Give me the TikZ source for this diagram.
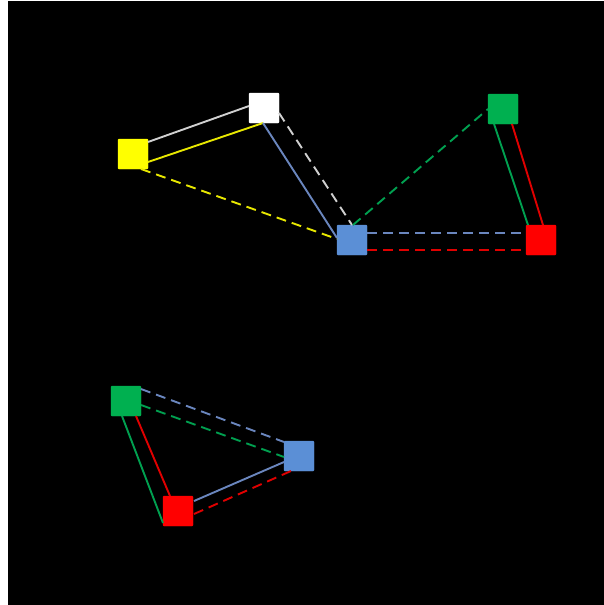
\documentclass[tikz,border=0pt]{standalone}
\usetikzlibrary{calc}
\definecolor{sqyellow}{HTML}{FFFF00}
\definecolor{sqblue}{HTML}{5B8FD6}
\definecolor{sqred}{HTML}{FF0000}
\definecolor{sqgreen}{HTML}{00B050}
\definecolor{lnyellow}{HTML}{E8E800}
\definecolor{lnblue}{HTML}{6A86BE}
\definecolor{lngray}{HTML}{D0D0D0}
\definecolor{lngreen}{HTML}{00A050}
\definecolor{lnred}{HTML}{E00000}

\begin{document}
\begin{tikzpicture}[x=1pt,y=-1pt,
  sq/.style={draw=#1,fill=#1,rounded corners=1pt,minimum size=30pt,inner sep=0pt},
  ln/.style={line width=1.9pt,#1},
  dl/.style={line width=1.9pt,#1,dash pattern=on 10pt off 6pt}]
  % background
  \fill[white] (0,0) rectangle (604,605);
  \fill[black] (8,1) rectangle (604,605);
  \useasboundingbox (0,0) rectangle (604,605);

  % upper group
  \node[sq=sqyellow] (y1) at (133,154) {};
  \node[sq=white] (w1) at (264,108) {};
  \node[sq=sqblue] (b1) at (352,240) {};
  \node[sq=sqred] (r1) at (541,240) {};
  \node[sq=sqgreen] (g1) at (503,109) {};

  \draw[ln=lngray] ($(y1.center)+(15,-12)$) -- ($(w1.center)+(-15,-2)$);
  \draw[ln=lnyellow] ($(y1.center)+(15,8)$) -- ($(w1.center)+(-1,15)$);
  \draw[ln=lnblue] ($(w1.center)+(-1,15)$) -- ($(b1.center)+(-15,-2)$);
  \draw[dl=lngray] ($(w1.center)+(15,5)$) -- ($(b1.center)+(0,-15)$);
  \draw[dl=lnyellow] ($(y1.center)+(8,15)$) -- ($(b1.center)+(-15,-1)$);
  \draw[dl=lngreen] ($(b1.center)+(1,-15)$) -- ($(g1.center)+(-15,0)$);
  \draw[dl=lnblue] ($(b1.center)+(15,-7)$) -- ($(r1.center)+(-15,-7)$);
  \draw[dl=lnred] ($(b1.center)+(15,10)$) -- ($(r1.center)+(-15,10)$);
  \draw[ln=lngreen] ($(g1.center)+(-9,15)$) -- ($(r1.center)+(-13,-15)$);
  \draw[ln=lnred] ($(g1.center)+(9,15)$) -- ($(r1.center)+(2,-15)$);

  % lower group
  \node[sq=sqgreen] (g2) at (126,401) {};
  \node[sq=sqblue] (b2) at (299,456) {};
  \node[sq=sqred] (r2) at (178,511) {};

  \draw[dl=lnblue] ($(g2.center)+(15,-12)$) -- ($(b2.center)+(-15,-14)$);
  \draw[dl=lngreen] ($(g2.center)+(15,4)$) -- ($(b2.center)+(-15,1)$);
  \draw[ln=lngreen] ($(g2.center)+(-4,15)$) -- ($(r2.center)+(-15,12)$);
  \draw[ln=lnred] ($(g2.center)+(10,15)$) -- ($(r2.center)+(-8,-15)$);
  \draw[ln=lnblue] ($(r2.center)+(16,-10)$) -- ($(b2.center)+(-15,6)$);
  \draw[dl=lnred] ($(r2.center)+(16,3)$) -- ($(b2.center)+(-8,15)$);
\end{tikzpicture}
\end{document}
